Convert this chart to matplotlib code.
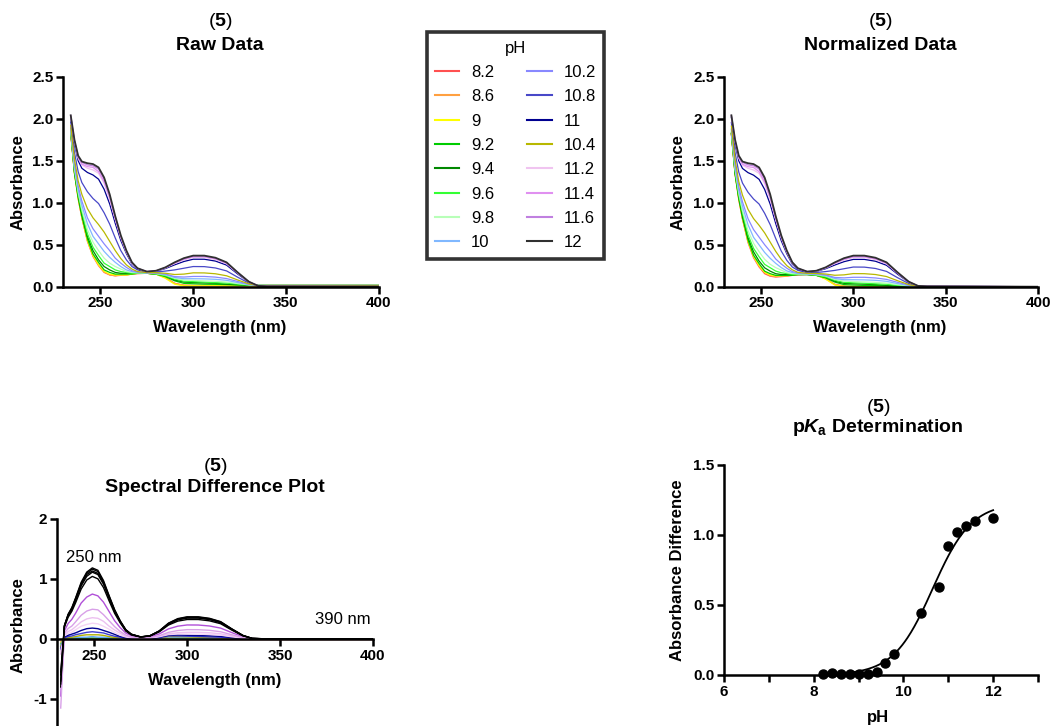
import numpy as np
import matplotlib.pyplot as plt
from matplotlib.ticker import MultipleLocator

plt.rcParams['font.family'] = ['Liberation Sans', 'DejaVu Sans']
plt.rcParams['font.weight'] = 'bold'
plt.rcParams['axes.labelweight'] = 'bold'
plt.rcParams['axes.unicode_minus'] = False
plt.rcParams['mathtext.fontset'] = 'custom'
plt.rcParams['mathtext.rm'] = 'Liberation Sans:bold'
plt.rcParams['mathtext.it'] = 'Liberation Sans:bold:italic'
plt.rcParams['mathtext.bf'] = 'Liberation Sans:bold'

# wavelengths (nm) at which the spectra were read
wavelength = [234, 236, 238, 240, 243, 246, 249, 252, 255, 258, 261, 264, 267, 270,
              275, 280, 285, 290, 295, 300, 306, 312, 318, 324, 330, 335, 340, 400]

# absorbance spectra, one list per pH (legend order)
a_8_2 = [1.83, 1.35, 1.05, 0.82, 0.54, 0.36, 0.25, 0.17, 0.14, 0.13, 0.135, 0.14, 0.15, 0.155,
         0.16, 0.15, 0.11, 0.04, 0.015, 0.015, 0.015, 0.015, 0.015, 0.015, 0.015, 0.015, 0.015, 0.015]
a_8_6 = [1.83, 1.36, 1.05, 0.82, 0.55, 0.37, 0.26, 0.18, 0.14, 0.13, 0.14, 0.14, 0.15, 0.16,
         0.16, 0.15, 0.11, 0.04, 0.02, 0.015, 0.015, 0.015, 0.01, 0.01, 0.01, 0.01, 0.01, 0.01]
a_9 = [1.83, 1.35, 1.06, 0.83, 0.55, 0.37, 0.26, 0.18, 0.15, 0.14, 0.14, 0.14, 0.15, 0.16,
       0.16, 0.15, 0.10, 0.03, 0.01, 0.01, 0.01, 0.01, 0.01, 0.01, 0.01, 0.01, 0.01, 0.01]
a_9_2 = [1.84, 1.36, 1.07, 0.84, 0.57, 0.39, 0.29, 0.20, 0.17, 0.15, 0.15, 0.15, 0.15, 0.16,
         0.16, 0.15, 0.12, 0.07, 0.04, 0.035, 0.03, 0.028, 0.025, 0.02, 0.016, 0.015, 0.015, 0.015]
a_9_4 = [1.84, 1.37, 1.08, 0.86, 0.60, 0.43, 0.32, 0.24, 0.20, 0.17, 0.16, 0.16, 0.16, 0.16,
         0.16, 0.15, 0.13, 0.08, 0.055, 0.05, 0.045, 0.04, 0.03, 0.024, 0.018, 0.015, 0.015, 0.015]
a_9_6 = [1.85, 1.39, 1.10, 0.89, 0.63, 0.47, 0.37, 0.28, 0.24, 0.20, 0.18, 0.17, 0.16, 0.16,
         0.16, 0.15, 0.13, 0.09, 0.065, 0.06, 0.055, 0.048, 0.043, 0.03, 0.02, 0.015, 0.014, 0.014]
a_9_8 = [1.86, 1.41, 1.13, 0.92, 0.68, 0.53, 0.43, 0.34, 0.28, 0.24, 0.21, 0.18, 0.17, 0.165,
         0.163, 0.156, 0.14, 0.10, 0.08, 0.075, 0.07, 0.065, 0.056, 0.038, 0.022, 0.014, 0.013, 0.013]
a_10 = [1.88, 1.44, 1.16, 0.97, 0.75, 0.60, 0.51, 0.42, 0.35, 0.29, 0.24, 0.20, 0.18, 0.17,
        0.164, 0.16, 0.145, 0.11, 0.095, 0.095, 0.093, 0.088, 0.076, 0.049, 0.025, 0.014, 0.013, 0.012]
a_10_2 = [1.89, 1.47, 1.20, 1.02, 0.82, 0.69, 0.60, 0.51, 0.43, 0.34, 0.28, 0.23, 0.19, 0.175,
          0.166, 0.162, 0.15, 0.12, 0.115, 0.122, 0.122, 0.114, 0.097, 0.062, 0.029, 0.014, 0.012, 0.01]
a_10_8 = [1.96, 1.60, 1.37, 1.24, 1.13, 1.05, 0.99, 0.88, 0.745, 0.58, 0.43, 0.32, 0.24, 0.20,
          0.173, 0.175, 0.186, 0.20, 0.22, 0.24, 0.239, 0.223, 0.188, 0.113, 0.043, 0.012, 0.009, 0.006]
a_11 = [2.02, 1.70, 1.50, 1.41, 1.36, 1.33, 1.28, 1.16, 0.985, 0.755, 0.55, 0.395, 0.27, 0.21,
        0.178, 0.185, 0.216, 0.26, 0.30, 0.327, 0.327, 0.305, 0.257, 0.151, 0.055, 0.011, 0.006, 0.002]
a_10_4 = [1.92, 1.52, 1.26, 1.10, 0.93, 0.82, 0.74, 0.65, 0.54, 0.43, 0.335, 0.26, 0.21, 0.18,
          0.168, 0.167, 0.16, 0.145, 0.15, 0.165, 0.164, 0.154, 0.13, 0.08, 0.034, 0.013, 0.011, 0.009]
a_11_2 = [2.03, 1.73, 1.53, 1.45, 1.41, 1.39, 1.35, 1.23, 1.04, 0.80, 0.58, 0.41, 0.28, 0.216,
          0.179, 0.188, 0.223, 0.275, 0.32, 0.349, 0.349, 0.325, 0.273, 0.161, 0.057, 0.01, 0.006, 0.001]
a_11_4 = [2.03, 1.73, 1.54, 1.46, 1.43, 1.42, 1.37, 1.25, 1.06, 0.81, 0.59, 0.42, 0.28, 0.217,
          0.179, 0.188, 0.225, 0.28, 0.327, 0.356, 0.356, 0.332, 0.279, 0.164, 0.058, 0.01, 0.005, 0.001]
a_11_6 = [2.04, 1.74, 1.55, 1.48, 1.45, 1.44, 1.40, 1.28, 1.08, 0.83, 0.60, 0.42, 0.29, 0.219,
          0.18, 0.189, 0.228, 0.285, 0.333, 0.363, 0.363, 0.338, 0.285, 0.167, 0.059, 0.01, 0.005, 0.0]
a_12 = [2.04, 1.75, 1.56, 1.49, 1.47, 1.46, 1.42, 1.30, 1.10, 0.84, 0.61, 0.43, 0.29, 0.22,
        0.18, 0.19, 0.23, 0.29, 0.34, 0.37, 0.37, 0.345, 0.29, 0.17, 0.06, 0.01, 0.005, 0.0]

ph_labels = ['8.2', '8.6', '9', '9.2', '9.4', '9.6', '9.8', '10',
             '10.2', '10.8', '11', '10.4', '11.2', '11.4', '11.6', '12']
spectra = [a_8_2, a_8_6, a_9, a_9_2, a_9_4, a_9_6, a_9_8, a_10,
           a_10_2, a_10_8, a_11, a_10_4, a_11_2, a_11_4, a_11_6, a_12]
colors = ['#ff5050', '#ffa040', '#ffff00', '#00cc00', '#008800', '#33ff33', '#b8ffb8', '#80b8ff',
          '#8888ff', '#4848c8', '#000090', '#b8b800', '#f0c4f0', '#e090f0', '#c080e0', '#303030']

# difference plot: colours and the dip values read at ~232 nm
diff_colors = ['#ff4040', '#ff9933', '#33dd33', '#60a8ff', '#b0b000', '#4040d0', '#000090', '#f4d4f4',
               '#ecc0f0', '#b050d8', 'black', '#d8a0e8', 'black', 'black', 'black', 'black']
diff_dip = [0.0, -0.05, -0.08, -0.1, -0.12, -0.15, -0.18, -0.2,
            -0.25, -0.95, -0.8, -1.15, -0.55, -0.6, -0.7, -0.75]
dip_wavelength = 232

# pKa determination points
pka_ph = [8.2, 8.4, 8.6, 8.8, 9.0, 9.2, 9.4, 9.6, 9.8, 10.4, 10.8, 11.0, 11.2, 11.4, 11.6, 12.0]
pka_abs = [0.007, 0.014, 0.008, 0.005, 0.006, 0.010, 0.020, 0.083, 0.148,
           0.440, 0.626, 0.919, 1.019, 1.064, 1.098, 1.119]
fit_bottom = 0.0
fit_top = 1.23
fit_pka = 10.65

raw = np.array(spectra)
norm = raw - raw[:, -1:]          # normalised to the 400 nm value
diff = norm - norm[0]             # difference to the pH 8.2 spectrum

W, H = 1054, 726
fig = plt.figure(figsize=(W / 100, H / 100), dpi=100)


def box(left, top, right, bottom):
    return [left / W, 1 - bottom / H, (right - left) / W, (bottom - top) / H]


def style(ax):
    ax.spines['top'].set_visible(False)
    ax.spines['right'].set_visible(False)
    ax.spines['left'].set_linewidth(1.8)
    ax.spines['bottom'].set_linewidth(1.8)
    ax.tick_params(width=1.8, length=5, labelsize=11, pad=2)
    ax.tick_params(which='minor', width=1.8, length=5)


def two_line_title(cx, y1, y2, text):
    fig.text(cx / W, 1 - y1 / H, r'($\mathbf{5}$)', ha='center', va='center',
             fontsize=14, fontweight='normal')
    fig.text(cx / W, 1 - y2 / H, text, ha='center', va='center', fontsize=14, fontweight='bold')


# Raw data and normalised data
handles = []
for ax_box, data, title, cx in [(box(63.3, 76.7, 378.7, 286.7), raw, 'Raw Data', 220),
                                (box(724, 76.7, 1038, 286.7), norm, 'Normalized Data', 880)]:
    ax = fig.add_axes(ax_box)
    for i in range(len(ph_labels)):
        lw = 1.3 if i == len(ph_labels) - 1 else 0.9
        line, = ax.plot(wavelength, data[i], color=colors[i], lw=lw, label=ph_labels[i])
        if title == 'Raw Data':
            handles.append(line)
    ax.set_xlim(230, 400)
    ax.set_ylim(0, 2.5)
    ax.set_xticks([250, 300, 350, 400])
    ax.yaxis.set_major_locator(MultipleLocator(0.5))
    ax.yaxis.set_major_formatter(plt.FormatStrFormatter('%.1f'))
    style(ax)
    ax.set_ylabel('Absorbance', fontsize=12)
    ax.set_xlabel('Wavelength (nm)', fontsize=12)
    ax.yaxis.set_label_coords(-0.121, 0.5)
    ax.xaxis.set_label_coords(0.497, -0.159)
    two_line_title(cx, 22, 45, title)

# legend box
leg = fig.legend(handles, ph_labels, ncol=2, title='pH', loc='upper left',
                 bbox_to_anchor=(426.7 / W, 1 - 32.3 / H), frameon=True, fancybox=False,
                 prop={'size': 12, 'weight': 'normal'}, title_fontproperties={'size': 12, 'weight': 'normal'},
                 handlelength=1.45, handletextpad=0.7, columnspacing=2.0, labelspacing=0.56,
                 borderpad=0.5, borderaxespad=0)
leg.get_frame().set_edgecolor('black')
leg.get_frame().set_linewidth(2.6)
for lh in leg.get_lines():
    lh.set_linewidth(1.5)

# Spectral difference plot
ax = fig.add_axes(box(57, 519, 373, 726))
for i in range(len(ph_labels)):
    xs = [dip_wavelength] + wavelength
    ys = [diff_dip[i]] + list(diff[i])
    ax.plot(xs, ys, color=diff_colors[i], lw=1.0)
ax.set_xlim(230, 400)
ax.set_ylim(-1.45, 2)
ax.spines['bottom'].set_position(('data', 0))
ax.set_xticks([250, 300, 350, 400])
ax.set_yticks([-1, 0, 1, 2])
style(ax)
ax.set_ylabel('Absorbance', fontsize=12)
ax.set_xlabel('Wavelength (nm)', fontsize=12)
ax.yaxis.set_label_coords(-0.101, 0.49)
ax.xaxis.set_label_coords(0.5, 0.256)
ax.text(250, 1.35, '250 nm', ha='center', va='center', fontsize=12, fontweight='normal')
ax.text(384, 0.33, '390 nm', ha='center', va='center', fontsize=12, fontweight='normal')
two_line_title(215, 466, 487, 'Spectral Difference Plot')

# pKa determination
ax = fig.add_axes(box(724, 465, 1038, 675))
ph_fit = np.linspace(8.2, 12.0, 200)
abs_fit = fit_bottom + (fit_top - fit_bottom) / (1 + 10 ** (fit_pka - ph_fit))
ax.plot(ph_fit, abs_fit, color='black', lw=1.3)
ax.plot(pka_ph, pka_abs, 'o', color='black', ms=6.5, clip_on=False)
ax.set_xlim(6, 13)
ax.set_ylim(0, 1.5)
ax.xaxis.set_major_locator(MultipleLocator(2))
ax.xaxis.set_minor_locator(MultipleLocator(1))
ax.yaxis.set_major_locator(MultipleLocator(0.5))
ax.yaxis.set_major_formatter(plt.FormatStrFormatter('%.1f'))
style(ax)
ax.set_ylabel('Absorbance Difference', fontsize=12)
ax.set_xlabel('pH', fontsize=12)
ax.yaxis.set_label_coords(-0.124, 0.5)
ax.xaxis.set_label_coords(0.49, -0.165)
two_line_title(878, 408, 428, r'p$K_{\mathrm{a}}$ Determination')

fig.savefig('out.png', dpi=100)
